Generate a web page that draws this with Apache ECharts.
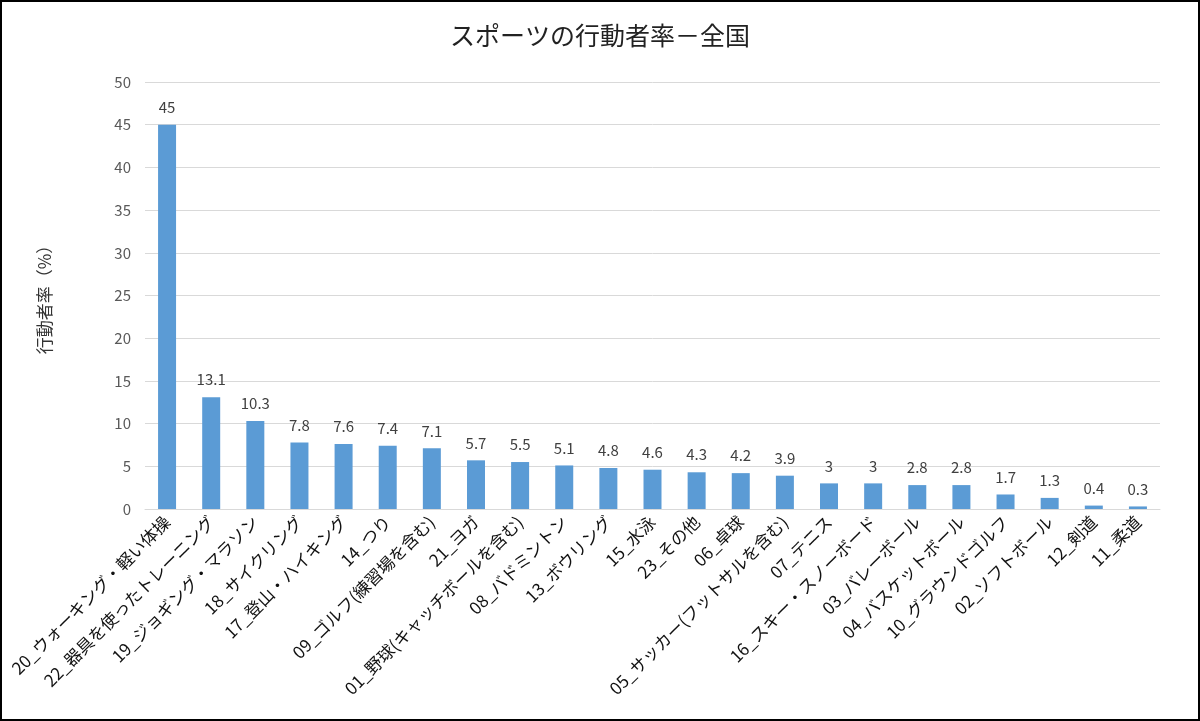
<!DOCTYPE html>
<html>
<head>
<meta charset="utf-8">
<script src="https://cdn.jsdelivr.net/npm/echarts@6/dist/echarts.min.js"></script>
<style>
  html, body { margin: 0; padding: 0; background: #fff; }
  #chart { width: 1196px; height: 717px; border: 2px solid #000; }
</style>
</head>
<body>
<div id="chart"></div>
<script>
// カテゴリと行動者率（%）
const categories = [
  '20_ウォーキング・軽い体操', '22_器具を使ったトレーニング', '19_ジョギング・マラソン',
  '18_サイクリング', '17_登山・ハイキング', '14_つり', '09_ゴルフ(練習場を含む)',
  '21_ヨガ', '01_野球(キャッチボールを含む)', '08_バドミントン', '13_ボウリング',
  '15_水泳', '23_その他', '06_卓球', '05_サッカー(フットサルを含む)', '07_テニス',
  '16_スキー・スノーボード', '03_バレーボール', '04_バスケットボール',
  '10_グラウンドゴルフ', '02_ソフトボール', '12_剣道', '11_柔道'
];
const rates = [45, 13.1, 10.3, 7.8, 7.6, 7.4, 7.1, 5.7, 5.5, 5.1, 4.8, 4.6, 4.3, 4.2, 3.9, 3, 3, 2.8, 2.8, 1.7, 1.3, 0.4, 0.3];
const yTicks = { min: 0, max: 50, interval: 5 };

const font = '"Noto Sans CJK JP", "Noto Sans", sans-serif';
const chart = echarts.init(document.getElementById('chart'));
const option = {
  textStyle: { fontFamily: font },
  title: {
    text: 'スポーツの行動者率－全国',
    left: 'center',
    top: 16,
    textStyle: { fontSize: 25, fontWeight: 'normal', color: '#222', fontFamily: font }
  },
  grid: { left: 143, right: 38, top: 80, bottom: 210 },
  xAxis: {
    type: 'category',
    data: categories,
    axisTick: { show: false },
    axisLine: { lineStyle: { color: '#d9d9d9' } },
    axisLabel: { rotate: 45, interval: 0, color: '#111', fontSize: 17, margin: 10, fontFamily: font }
  },
  yAxis: {
    type: 'value',
    min: yTicks.min,
    max: yTicks.max,
    interval: yTicks.interval,
    name: '行動者率（%）',
    nameLocation: 'middle',
    nameRotate: 90,
    nameGap: 92,
    nameTextStyle: { fontSize: 17, color: '#333', fontFamily: font },
    axisLine: { show: false },
    axisTick: { show: false },
    axisLabel: { color: '#595959', fontSize: 15, margin: 14 },
    splitLine: { lineStyle: { color: '#d9d9d9' } }
  },
  series: [{
    type: 'bar',
    data: rates,
    barWidth: 18,
    itemStyle: { color: '#5b9bd5' },
    label: { show: true, position: 'top', distance: 10, color: '#404040', fontSize: 15 }
  }]
};
chart.setOption(option);
</script>
</body>
</html>
